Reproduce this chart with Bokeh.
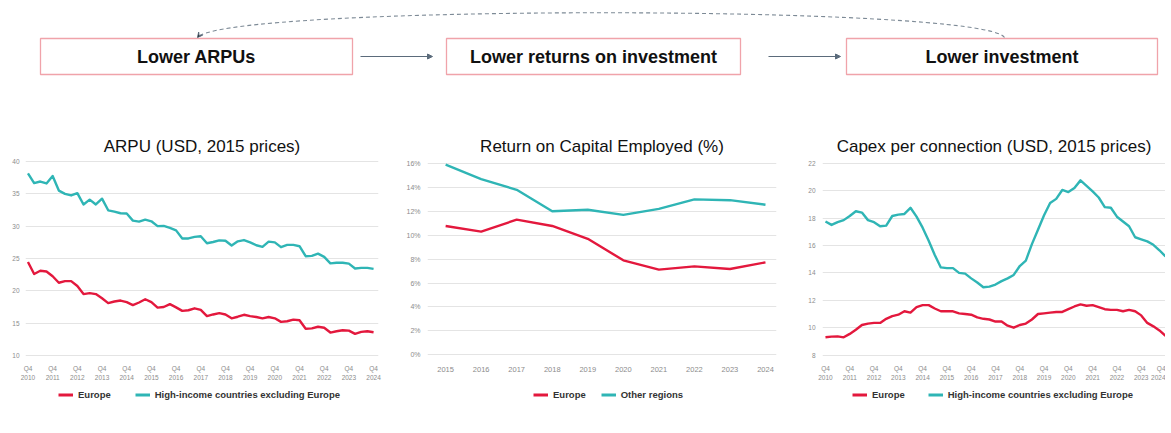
from bokeh.plotting import figure
from bokeh.layouts import column, row
from bokeh.models import (Range1d, FixedTicker, Legend, LegendItem, Arrow, LinearAxis,
                          NormalHead, VeeHead, PrintfTickFormatter)
from bokeh.core.properties import value
from bokeh.embed import file_html
from bokeh.resources import INLINE

# ---------------- data ----------------
flow_labels = ["Lower ARPUs", "Lower returns on investment", "Lower investment"]

tick_years = list(range(2010, 2025))  # Q4 of each year

arpu_europe = [24.45,
               22.6, 23.1, 23.0, 22.25,
               21.25, 21.5, 21.5, 20.75,
               19.5, 19.65, 19.5, 18.85,
               18.1, 18.35, 18.5, 18.25,
               17.8, 18.2, 18.7, 18.25,
               17.4, 17.5, 17.95, 17.45,
               16.9, 17.0, 17.3, 17.05,
               16.1, 16.35, 16.55, 16.35,
               15.75, 16.0, 16.3, 16.1,
               15.95, 15.75, 15.95, 15.75,
               15.2, 15.3, 15.55, 15.45,
               14.15, 14.2, 14.45, 14.3,
               13.55, 13.75, 13.9, 13.85,
               13.35, 13.65, 13.75, 13.6]
arpu_high_income = [38.15,
                    36.65, 36.9, 36.6, 37.75,
                    35.5, 35.0, 34.75, 35.1,
                    33.35, 34.1, 33.35, 34.25,
                    32.45, 32.25, 32.0, 31.95,
                    30.85, 30.7, 31.0, 30.75,
                    30.0, 30.05, 29.75, 29.35,
                    28.1, 28.1, 28.35, 28.45,
                    27.35, 27.55, 27.8, 27.75,
                    27.0, 27.65, 27.85, 27.5,
                    27.05, 26.8, 27.6, 27.5,
                    26.75, 27.1, 27.1, 26.9,
                    25.35, 25.4, 25.75, 25.25,
                    24.25, 24.35, 24.35, 24.2,
                    23.45, 23.55, 23.55, 23.4]

roce_years = list(range(2015, 2025))
roce_europe = [10.77, 10.3, 11.3, 10.77, 9.7, 7.9, 7.12, 7.39, 7.17, 7.73]
roce_other = [15.9, 14.7, 13.8, 12.0, 12.13, 11.7, 12.2, 13.0, 12.93, 12.55]

capex_europe = [9.3,
                9.35, 9.37, 9.3, 9.55,
                9.85, 10.2, 10.3, 10.35,
                10.35, 10.65, 10.85, 10.95,
                11.2, 11.1, 11.5, 11.65,
                11.65, 11.4, 11.2, 11.2,
                11.2, 11.05, 11.0, 10.95,
                10.75, 10.65, 10.6, 10.45,
                10.45, 10.15, 10.0, 10.2,
                10.3, 10.6, 11.0, 11.05,
                11.1, 11.15, 11.15, 11.35,
                11.55, 11.7, 11.6, 11.65,
                11.5, 11.35, 11.3, 11.3,
                11.2, 11.3, 11.2, 10.9,
                10.35, 10.1, 9.8, 9.4]
capex_high_income = [17.75,
                     17.5, 17.7, 17.85, 18.15,
                     18.5, 18.4, 17.85, 17.7,
                     17.4, 17.45, 18.15, 18.25,
                     18.3, 18.75, 18.1, 17.3,
                     16.35, 15.3, 14.4, 14.35,
                     14.35, 14.0, 13.95, 13.6,
                     13.3, 12.95, 13.0, 13.15,
                     13.4, 13.6, 13.85, 14.5,
                     14.9, 16.1, 17.15, 18.2,
                     19.1, 19.4, 20.05, 19.9,
                     20.2, 20.75, 20.35, 19.95,
                     19.5, 18.8, 18.75, 18.1,
                     17.75, 17.4, 16.6, 16.45,
                     16.3, 16.05, 15.65, 15.2]

legend_arpu = ["Europe", "High-income countries excluding Europe"]
legend_roce = ["Europe", "Other regions"]
legend_capex = ["Europe", "High-income countries excluding Europe"]

RED = "#E3183D"
TEAL = "#2FB5B5"
FONT = "Liberation Sans"
TICK_C = "#8C8C8C"

# ---------------- top flow diagram ----------------
TOP_W, TOP_H = 1165, 108
top = figure(width=TOP_W, height=TOP_H, x_range=Range1d(0, TOP_W), y_range=Range1d(TOP_H, 0),
             output_backend="svg", toolbar_location=None,
             x_axis_location=None, y_axis_location=None, min_border=0)
top.grid.visible = False
top.outline_line_color = None

box_l = [40, 446, 846]
box_r = [352, 740, 1157]
top.quad(left=box_l, right=box_r, top=[38] * 3, bottom=[74] * 3,
         fill_color="white", line_color="#F0A3AA", line_width=1.3)
top.text(x=[(a + b) / 2 for a, b in zip(box_l, box_r)], y=[56] * 3, text=flow_labels,
         text_font=value(FONT), text_font_style="bold", text_font_size="18px",
         text_align="center", text_baseline="middle", text_color="#111111")

ARROW_C = "#5B6B7B"
for xs, xe in [(360, 432), (768, 840)]:
    top.add_layout(Arrow(end=NormalHead(size=5, line_color=ARROW_C, fill_color=ARROW_C),
                         x_start=xs, y_start=56, x_end=xe, y_end=56,
                         line_color=ARROW_C, line_width=1.2))

top.bezier(x0=[1004], y0=[37], x1=[197], y1=[37], cx0=[985], cy0=[4], cx1=[223], cy1=[4],
           line_color="#7D8A96", line_dash="4 3", line_width=1.1)
top.add_layout(Arrow(end=VeeHead(size=5, line_color="#5B6B7B", line_width=1),
                     x_start=199, y_start=34.5, x_end=197, y_end=37,
                     line_color="#7D8A96", line_width=1))


# ---------------- charts ----------------
CH_H = 274


def style_axis(ax, size):
    ax.axis_line_color = None
    ax.major_tick_line_color = None
    ax.minor_tick_line_color = None
    ax.major_tick_out = 0
    ax.major_tick_in = 0
    ax.minor_tick_out = 0
    ax.minor_tick_in = 0
    ax.major_label_text_color = TICK_C
    ax.major_label_text_font = FONT
    ax.major_label_text_font_size = size


def make_chart(width, ml, mr, xr, yr, title, tick_size):
    p = figure(width=width, height=CH_H, x_range=Range1d(*xr), y_range=Range1d(*yr),
               output_backend="svg", toolbar_location=None,
               min_border_left=ml, min_border_right=mr, min_border_top=52,
               min_border_bottom=26, title=title)
    p.title.align = "center"
    p.title.text_font = FONT
    p.title.text_font_size = "17px"
    p.title.text_font_style = "normal"
    p.title.text_color = "#111111"
    p.outline_line_color = None
    p.xgrid.visible = False
    p.ygrid.grid_line_color = "#E4E4E4"
    p.ygrid.grid_line_width = 1
    style_axis(p.xaxis[0], tick_size)
    style_axis(p.yaxis[0], tick_size)
    return p


def legend_fig(width, labels, spacing, x_off):
    f = figure(width=width, height=20, x_range=Range1d(0, 1), y_range=Range1d(0, 1),
               output_backend="svg", toolbar_location=None,
               x_axis_location=None, y_axis_location=None, min_border=0)
    f.grid.visible = False
    f.outline_line_color = None
    rs = [f.line([-5, -4], [-5, -5], line_color=c, line_width=3) for c in (RED, TEAL)]
    lg = Legend(items=[LegendItem(label=l, renderers=[r]) for l, r in zip(labels, rs)],
                orientation="horizontal", location=(x_off, 2),
                border_line_color=None, background_fill_alpha=0,
                label_text_font=FONT, label_text_font_size="9.5px",
                label_text_font_style="bold", label_text_color="#333333",
                glyph_width=15, glyph_height=11, label_height=11,
                label_standoff=5, spacing=spacing, padding=2, margin=0)
    f.add_layout(lg)
    return f


q_idx = list(range(len(arpu_europe)))
q_ticks = [4 * i for i in range(len(tick_years))]
q_top_labels = {t: "Q4" for t in q_ticks}
q_year_labels = {t: str(y) for t, y in zip(q_ticks, tick_years)}


def quarter_axes(p):
    p.xaxis[0].ticker = FixedTicker(ticks=q_ticks)
    p.xaxis[0].major_label_overrides = q_top_labels
    p.xaxis[0].major_label_standoff = 8
    yr_axis = LinearAxis(ticker=FixedTicker(ticks=q_ticks),
                         major_label_overrides=q_year_labels,
                         major_label_standoff=0)
    style_axis(yr_axis, "6.5px")
    p.add_layout(yr_axis, "below")


# ARPU
p1 = make_chart(390, 25, 12, (-0.4, 56.8), (9.85, 40.15), "ARPU (USD, 2015 prices)", "6.5px")
quarter_axes(p1)
p1.yaxis[0].ticker = FixedTicker(ticks=[10, 15, 20, 25, 30, 35, 40])
p1.yaxis[0].major_label_standoff = 6
p1.line(q_idx, arpu_europe, line_color=RED, line_width=2.4, line_join="round")
p1.line(q_idx, arpu_high_income, line_color=TEAL, line_width=2.4, line_join="round")
l1 = legend_fig(390, legend_arpu, 24, 58)

# ROCE
p2 = make_chart(390, 37, 4, (2014.49, 2024.31), (-0.15, 16.25), "Return on Capital Employed (%)", "7.5px")
p2.xaxis[0].ticker = FixedTicker(ticks=roce_years)
p2.xaxis[0].major_label_standoff = 10
p2.yaxis[0].ticker = FixedTicker(ticks=list(range(0, 17, 2)))
p2.yaxis[0].formatter = PrintfTickFormatter(format="%d%%")
p2.yaxis[0].major_label_standoff = 7
p2.yaxis[0].major_label_text_font_size = "7px"
p2.line(roce_years, roce_europe, line_color=RED, line_width=2.4, line_join="round")
p2.line(roce_years, roce_other, line_color=TEAL, line_width=2.4, line_join="round")
l2 = legend_fig(390, legend_roce, 15, 143)

# Capex
p3 = make_chart(385, 42, 0, (-0.49, 56.0), (7.9, 22.2), "Capex per connection (USD, 2015 prices)", "6.5px")
quarter_axes(p3)
p3.yaxis[0].ticker = FixedTicker(ticks=list(range(8, 23, 2)))
p3.yaxis[0].major_label_standoff = 7
p3.line(q_idx, capex_europe, line_color=RED, line_width=2.4, line_join="round")
p3.line(q_idx, capex_high_income, line_color=TEAL, line_width=2.4, line_join="round")
l3 = legend_fig(385, legend_capex, 23, 72)

layout = column(top, row(p1, p2, p3), row(l1, l2, l3))
open("out.html", "w").write(file_html(layout, INLINE))
